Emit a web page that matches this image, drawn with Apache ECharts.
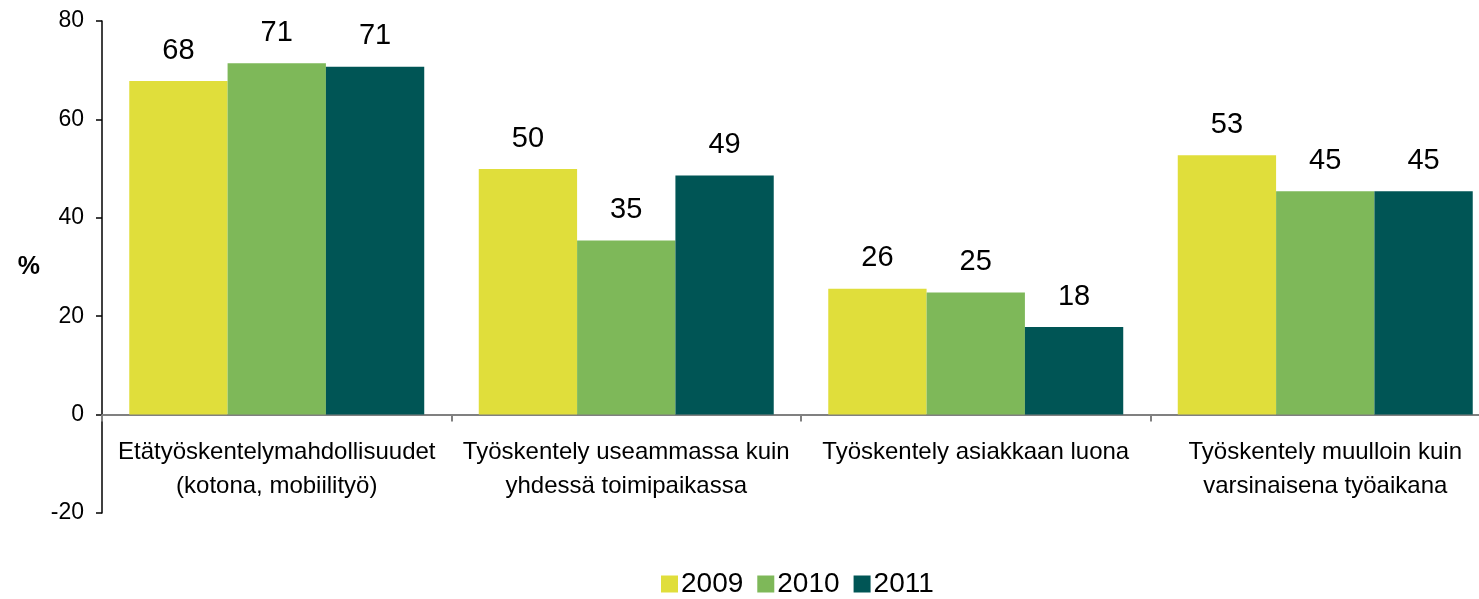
<!DOCTYPE html>
<html>
<head>
<meta charset="utf-8">
<script src="https://cdn.jsdelivr.net/npm/echarts@6/dist/echarts.min.js"></script>
<style>
  html, body { margin: 0; padding: 0; background: #fff; }
  #chart { width: 1479px; height: 599px; }
</style>
</head>
<body>
<div id="chart"></div>
<script>
// luokat (x-akseli)
var categories = [
    'Etätyöskentelymahdollisuudet\n(kotona, mobiilityö)',
    'Työskentely useammassa kuin\nyhdessä toimipaikassa',
    'Työskentely asiakkaan luona',
    'Työskentely muulloin kuin\nvarsinaisena työaikana'
];
var years = ['2009', '2010', '2011'];
var values2009 = [67.8, 49.9, 25.6, 52.7];
var values2010 = [71.4, 35.4, 24.8, 45.4];
var values2011 = [70.7, 48.6, 17.8, 45.4];
var colors = ['#e0de3b', '#7eb859', '#005555'];

var FONT = '"Liberation Sans", Arial, sans-serif';

var makeSeries = function (name, data, color) {
    return {
        name: name,
        type: 'bar',
        data: data,
        barGap: '0%',
        barCategoryGap: '15.6%',
        itemStyle: { color: color },
        label: {
            show: true,
            position: 'top',
            distance: 16,
            fontFamily: FONT,
            fontSize: 29,
            color: '#000',
            formatter: function (p) { return Math.round(p.value); }
        }
    };
};

var myChart = echarts.init(document.getElementById('chart'));
var option = {
    animation: false,
    textStyle: { fontFamily: FONT },
    legend: {
        data: years,
        left: 656,
        top: 565,
        itemWidth: 17,
        itemHeight: 17,
        itemGap: 14,
        icon: 'rect',
        textStyle: { fontFamily: FONT, fontSize: 28, color: '#000', padding: [0, 0, 0, -2] }
    },
    grid: {
        left: 102,
        width: 1398,
        top: 21,
        bottom: 86,
        outerBoundsMode: 'none',
        containLabel: false
    },
    xAxis: {
        type: 'category',
        data: categories,
        axisLine: { onZero: true, lineStyle: { color: '#808080', width: 2 } },
        axisTick: { show: true, length: 7, lineStyle: { color: '#808080', width: 2 } },
        axisLabel: {
            interval: 0,
            // v6 puts labels at grid bottom, pull them up under the zero line
            margin: -78,
            fontFamily: FONT,
            fontSize: 24,
            color: '#000',
            lineHeight: 34,
            verticalAlign: 'top'
        }
    },
    yAxis: {
        type: 'value',
        min: -20,
        max: 80,
        interval: 20,
        name: '%',
        nameLocation: 'middle',
        nameRotate: 0,
        nameGap: 62,
        nameTextStyle: { fontFamily: FONT, fontSize: 25, fontWeight: 'bold', color: '#000' },
        axisLine: { show: true, lineStyle: { color: '#000', width: 1.5 } },
        axisTick: { show: true, inside: false, length: 6, lineStyle: { color: '#000', width: 1.5 } },
        axisLabel: { fontFamily: FONT, fontSize: 23, color: '#000', margin: 18 },
        splitLine: { show: false }
    },
    series: [
        makeSeries(years[0], values2009, colors[0]),
        makeSeries(years[1], values2010, colors[1]),
        makeSeries(years[2], values2011, colors[2])
    ]
};
myChart.setOption(option);
</script>
</body>
</html>
